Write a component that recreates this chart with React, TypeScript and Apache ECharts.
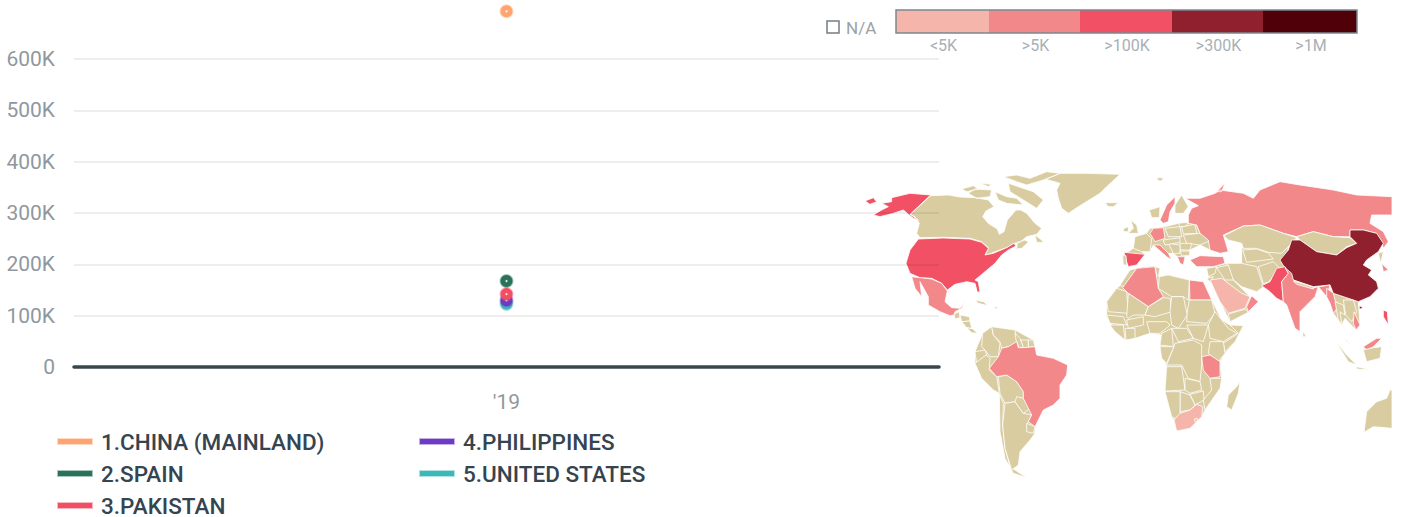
import React, { useEffect, useRef } from "react";
import * as echarts from "echarts";

const years = ["'19"];
const yTicks = { min: 0, max: 600000, interval: 100000 };
const rankedNames = ["1.CHINA (MAINLAND)", "2.SPAIN", "3.PAKISTAN", "4.PHILIPPINES", "5.UNITED STATES"];
const rankedValues = [693000, 167500, 142000, 130000, 123000];
const rankedColors = ["#ffa470", "#2a7259", "#f04f64", "#6d3bc4", "#3db8b8"];
const legendLeft = rankedNames.slice(0, 3);
const legendRight = rankedNames.slice(3);

const scaleLabels = ["<5K", ">5K", ">100K", ">300K", ">1M"];
const scaleColors = ["#f6b5ab", "#f3888a", "#f25064", "#91202e", "#500008"];
const scaleLimits = [0, 5000, 100000, 300000, 1000000, Infinity];
const noDataColor = "#d8cca0";

// Approximate value per shaded country (others have no data).
const countryValues: [string, number][] = [
  ["China", 693000], ["Spain", 167500], ["Pakistan", 142000], ["Philippines", 130000], ["United States", 123000],
  ["Russia", 40000], ["Brazil", 30000], ["Mexico", 20000], ["India", 40000], ["Algeria", 20000],
  ["Egypt", 20000], ["Turkey", 20000], ["Tanzania", 20000], ["Germany", 20000], ["Italy", 20000],
  ["Sweden", 20000], ["Greece", 20000], ["Oman", 20000], ["Myanmar", 20000], ["Malaysia", 20000],
  ["South Korea", 20000], ["Vietnam", 20000], ["Saudi Arabia", 3000], ["South Africa", 3000],
];

type Ring = number[][];
// Outline sketches in map units (west half).
const west: Record<string, Ring[]> = {
  SouthAmericaLand: [[[345,560],[368,505],[395,485],[465,495],[520,525],[525,545],[445,600],[490,680],[510,730],[525,785],[525,805],[510,825],[480,860],[475,900],[455,915],[435,850],[418,688],[365,640],[345,595]]],
  Greenland: [[[557,43],[600,25],[680,25],[780,28],[740,65],[720,85],[655,125],[625,145],[605,130],[595,100],[590,75],[600,55]]],
  Iceland: [[[735,113],[775,113],[760,125],[745,125]]],
  Canada: [
    [[212,92],[265,90],[300,96],[345,98],[385,105],[402,125],[378,138],[368,155],[385,175],[412,192],[418,208],[432,200],[442,165],[468,135],[482,135],[500,145],[525,175],[545,190],[530,208],[500,215],[480,232],[462,235],[440,248],[400,262],[375,272],[385,248],[365,230],[330,220],[250,217],[180,218],[170,205],[178,175],[165,155],[150,148]],
    [[525,210],[545,225],[550,232],[530,232]], [[472,232],[495,225],[505,232],[485,250],[470,252]],
    [[305,72],[340,62],[355,72],[320,80]], [[325,85],[345,72],[395,75],[390,95],[350,100]],
    [[360,55],[395,58],[385,65]], [[405,80],[440,95],[470,100],[490,120],[440,115],[415,105]],
    [[445,55],[520,80],[550,105],[530,130],[490,105],[450,80]],
    [[430,35],[470,30],[510,40],[560,20],[600,25],[550,45],[500,60],[470,50]],
  ],
  "United States": [
    [[175,222],[250,219],[330,222],[365,232],[385,250],[375,270],[400,265],[440,248],[462,235],[468,243],[445,255],[425,270],[405,295],[375,320],[345,345],[355,350],[360,380],[352,382],[345,355],[320,350],[285,358],[262,375],[245,355],[215,340],[180,338],[150,325],[138,295],[150,255]],
    [[95,98],[150,85],[212,90],[150,148],[175,165],[160,160],[130,135],[100,145],[60,155],[40,150],[65,135],[85,125],[65,115],[95,110]],
    [[15,108],[40,98],[50,110],[30,118]],
  ],
  Mexico: [[[155,335],[180,338],[215,342],[245,355],[262,378],[255,410],[275,428],[300,430],[315,412],[305,430],[285,440],[282,450],[270,452],[240,440],[205,420],[205,395],[180,350],[185,395],[165,370]]],
  Guatemala: [[[282,447],[298,440],[300,458],[285,462]]],
  Honduras: [[[300,450],[328,455],[330,468],[305,470]]],
  Nicaragua: [[[305,470],[330,468],[335,490],[320,488]]],
  Panama: [[[320,488],[340,492],[352,505],[335,503]]],
  Cuba: [[[345,405],[370,410],[385,422],[355,415]]],
  Haiti: [[[402,425],[420,428],[405,432]]],
  Colombia: [[[368,505],[395,485],[400,510],[420,535],[415,575],[390,575],[375,555],[365,545]]],
  Venezuela: [[[395,485],[465,495],[470,520],[475,545],[445,545],[425,550],[420,530],[400,510]]],
  Guyana: [[[465,505],[480,520],[490,545],[478,550],[468,525]]],
  Suriname: [[[483,525],[505,525],[505,547],[490,548]]],
  Guiana: [[[505,525],[520,525],[525,545],[505,547]]],
  Ecuador: [[[345,560],[375,555],[380,570],[350,595]]],
  Peru: [[[345,595],[378,570],[390,580],[388,615],[410,635],[418,685],[400,675],[365,640]]],
  Bolivia: [[[415,635],[440,630],[470,650],[490,680],[490,710],[465,710],[435,715],[420,685]]],
  Chile: [[[418,688],[430,715],[428,780],[435,850],[450,905],[500,938],[460,925],[435,880],[420,800]]],
  Argentina: [[[435,715],[465,710],[490,745],[515,750],[500,780],[525,805],[510,825],[480,860],[475,900],[455,915],[435,850],[428,780]]],
  Paraguay: [[[465,710],[470,695],[490,700],[510,730],[490,745]]],
  Uruguay: [[[500,775],[525,785],[520,805],[500,800]]],
  Brazil: [[[388,610],[415,575],[425,550],[445,545],[470,530],[475,548],[490,548],[525,545],[530,570],[580,580],[623,600],[620,630],[600,660],[600,700],[580,720],[550,735],[525,785],[505,770],[515,750],[490,700],[490,680],[470,650],[440,630],[410,635]]],
};

// Outline sketches in map units (east half, shifted by eastShift when built).
const east: Record<string, Ring[]> = {
  AfricaLand: [[[60,362],[90,315],[130,305],[165,303],[180,310],[178,335],[205,330],[268,345],[310,350],[335,405],[365,465],[390,480],[430,482],[405,530],[375,565],[360,590],[365,640],[360,670],[315,735],[305,755],[270,790],[230,798],[222,765],[215,755],[195,678],[200,605],[180,545],[185,510],[150,505],[105,520],[75,525],[45,500],[20,450],[20,410],[50,370]]],
  EuropeLand: [[[68,272],[100,250],[105,215],[140,205],[150,190],[195,185],[235,175],[265,175],[290,180],[300,205],[335,225],[330,255],[300,240],[270,255],[255,275],[250,300],[232,275],[220,265],[205,265],[215,285],[200,275],[160,240],[150,260],[125,260],[135,268],[110,300],[70,300]]],
  CentralAsiaLand: [[[425,250],[590,218],[565,245],[555,310],[530,310],[490,365],[470,380],[425,365],[400,345],[380,295],[425,295]]],
  SoutheastAsiaLand: [[[680,370],[745,400],[775,410],[780,480],[768,495],[735,460],[725,480],[700,445]]],
  MiddleEastLand: [[[320,310],[380,295],[400,345],[450,395],[475,410],[445,440],[390,470],[360,410],[330,345]]],
  Svalbard: [[[170,38],[190,38],[185,48],[175,47]]],
  Spain: [[[72,262],[135,268],[110,300],[85,305],[78,285]]],
  Portugal: [[[68,272],[78,272],[80,300],[70,300]]],
  France: [[[105,215],[140,205],[155,222],[150,260],[125,260],[100,250]]],
  Britain: [[[92,165],[110,180],[115,205],[85,205],[100,190]]],
  Ireland: [[[72,190],[85,185],[85,200],[70,200]]],
  Germany: [[[160,190],[190,188],[195,220],[165,230],[150,205]]],
  Italy: [[[160,240],[180,240],[205,265],[215,285],[200,275]]],
  Sweden: [[[180,165],[200,120],[225,95],[225,115],[210,140],[205,170],[190,175]]],
  Norway: [[[148,135],[180,125],[178,158],[155,158]]],
  Finland: [[[225,120],[245,90],[265,125],[250,145],[225,145]]],
  Poland: [[[195,190],[240,185],[245,215],[205,215]]],
  Baltics: [[[235,175],[262,172],[262,183],[240,185]]],
  Belarus: [[[245,186],[285,178],[290,205],[250,207]]],
  Ukraine: [[[250,210],[300,205],[335,225],[300,240],[260,235]]],
  Romania: [[[240,235],[275,235],[270,255],[240,255]]],
  Balkans: [[[205,235],[240,240],[240,265],[220,265]]],
  Bulgaria: [[[240,258],[270,258],[268,272],[245,272]]],
  Greece: [[[232,275],[255,275],[250,300],[240,295]]],
  Austria: [[[190,225],[240,218],[240,232],[195,240]]],
  Turkey: [[[270,285],[300,272],[370,275],[375,295],[340,305],[290,305]]],
  Russia: [
    [[300,100],[345,85],[360,75],[430,85],[460,100],[480,75],[540,50],[600,60],[700,75],[770,90],[876,95],[876,150],[815,150],[810,175],[850,200],[865,230],[850,250],[845,230],[830,205],[790,195],[750,195],[750,215],[700,215],[640,200],[590,215],[550,205],[480,180],[430,183],[370,210],[385,260],[360,265],[330,255],[325,225],[300,205],[290,180],[265,175],[265,150],[275,130],[295,122],[255,100]],
    [[350,80],[375,55],[365,80]],
  ],
  Kazakhstan: [[[372,212],[430,183],[480,180],[550,205],[590,218],[565,245],[545,265],[505,262],[470,250],[430,250],[425,235],[385,225]]],
  Uzbekistan: [[[428,255],[470,252],[505,264],[520,282],[480,287],[440,292]]],
  Mongolia: [[[590,215],[640,200],[700,215],[750,218],[770,235],[740,245],[710,270],[650,260],[600,225]]],
  China: [
    [[540,285],[565,255],[575,225],[600,225],[650,260],[710,270],[740,248],[770,235],[750,215],[750,195],[790,195],[830,205],[850,235],[835,260],[800,285],[790,300],[815,315],[805,330],[830,350],[835,370],[810,395],[775,410],[745,400],[700,385],[690,360],[640,365],[580,345],[555,310]],
    [[778,423],[787,425],[785,432],[778,431]],
  ],
  "North Korea": [[[835,265],[850,260],[842,295]]],
  "South Korea": [[[845,295],[865,315],[850,320]]],
  Iran: [[[380,295],[425,295],[470,305],[490,365],[470,380],[425,365],[395,340]]],
  Afghanistan: [[[475,305],[520,290],[540,310],[505,352],[490,355]]],
  Pakistan: [[[485,362],[510,350],[530,310],[555,305],[565,325],[545,350],[550,410],[530,400],[510,380]]],
  India: [[[555,308],[575,325],[580,345],[640,368],[690,360],[680,395],[655,365],[645,395],[600,440],[600,500],[585,490],[560,420],[550,410],[545,350],[565,325]]],
  Nepal: [[[580,348],[640,366],[640,372],[590,358]]],
  Myanmar: [[[680,370],[700,385],[705,405],[715,425],[700,445],[690,415],[680,395]]],
  Thailand: [[[705,410],[730,420],[735,450],[720,440],[725,475],[715,465]]],
  Laos: [[[730,405],[760,405],[770,440],[755,470],[737,450]]],
  Vietnam: [[[762,440],[780,480],[768,495],[760,475]]],
  Malaysia: [[[730,515],[755,545],[740,530]], [[790,545],[830,520],[845,520],[820,545],[800,555]]],
  Borneo: [[[790,555],[820,548],[845,545],[840,580],[800,590]]],
  Sumatra: [[[705,525],[740,570],[770,600],[745,590]]],
  Java: [[[770,605],[815,615],[770,612]]],
  Philippines: [[[850,435],[862,440],[865,480],[850,455]]],
  "Sri Lanka": [[[610,498],[618,515],[608,515]]],
  "Saudi Arabia": [[[330,345],[365,340],[425,385],[450,395],[435,430],[385,445],[360,410]]],
  Yemen: [[[385,447],[437,432],[445,442],[390,470]]],
  Oman: [[[440,425],[455,392],[475,410],[445,440]]],
  Iraq: [[[350,308],[385,300],[400,345],[375,345]]],
  Syria: [[[320,310],[350,305],[345,325],[325,335]]],
  Jordan: [[[320,340],[340,335],[330,350]]],
  Egypt: [[[268,345],[310,350],[335,405],[270,405]]],
  Morocco: [[[60,360],[90,315],[110,310],[115,320],[70,365]]],
  Mauritania: [[[20,410],[50,370],[80,380],[85,445],[25,440]]],
  Algeria: [[[68,368],[110,310],[165,305],[175,370],[190,395],[145,425],[85,385]]],
  Tunisia: [[[165,305],[180,310],[175,335],[170,330]]],
  Libya: [[[178,335],[205,330],[268,345],[265,405],[250,395],[215,395],[175,370]]],
  Mali: [[[85,385],[145,425],[135,450],[100,450],[85,460],[80,455]]],
  Niger: [[[145,425],[190,398],[210,400],[215,440],[165,455],[135,450]]],
  Chad: [[[215,395],[250,395],[262,450],[235,490],[215,480],[210,440]]],
  Sudan: [[[268,405],[335,405],[345,445],[320,475],[260,470],[262,440]]],
  Ethiopia: [[[345,440],[385,490],[410,505],[370,530],[330,520],[325,480]]],
  Somalia: [[[390,480],[430,482],[405,530],[375,560],[370,535],[415,505]]],
  Kenya: [[[330,530],[370,530],[375,565],[355,590],[325,565]]],
  Tanzania: [[[305,575],[330,570],[360,590],[360,635],[330,640],[310,615]]],
  Nigeria: [[[140,470],[200,470],[210,480],[180,505],[150,505]]],
  Senegal: [[[20,450],[70,455],[80,480],[30,475]]],
  Guinea: [[[30,480],[70,480],[75,525],[45,500]]],
  Ghana: [[[75,490],[105,490],[105,520],[78,525]]],
  Burkina: [[[80,465],[130,455],[130,480],[85,490]]],
  Cameroon: [[[185,505],[215,490],[220,545],[180,540]]],
  Central: [[[215,490],[260,490],[280,520],[235,530]]],
  "South Sudan": [[[260,480],[325,480],[310,530],[280,520]]],
  DRC: [[[225,535],[280,525],[305,540],[305,600],[300,650],[265,640],[245,600],[200,600]]],
  Gabon: [[[180,545],[222,545],[200,595],[185,580]]],
  Angola: [[[200,605],[245,605],[255,675],[195,678]]],
  Zambia: [[[255,640],[300,650],[305,675],[270,685],[255,675]]],
  Mozambique: [[[330,640],[365,640],[360,670],[315,735],[310,705],[335,675]]],
  Zimbabwe: [[[270,688],[310,678],[312,705],[285,720]]],
  Botswana: [[[240,680],[270,690],[285,720],[270,735],[240,740]]],
  Namibia: [[[195,680],[240,680],[240,755],[235,765],[215,755]]],
  "South Africa": [[[222,765],[240,745],[270,735],[290,718],[308,725],[305,755],[270,790],[230,798]]],
  Lesotho: [[[283,762],[292,760],[292,770],[285,770]]],
  Madagascar: [[[420,650],[415,685],[395,735],[380,725],[385,690],[410,665]]],
  Australia: [[[792,802],[800,740],[830,710],[860,700],[870,675],[876,675],[876,790],[820,785]]],
};
const eastShift = 720;

function buildGeo() {
  const features: any[] = [];
  const add = (name: string, rings: Ring[], dx: number) =>
    features.push({
      type: "Feature",
      properties: { name },
      geometry: {
        type: "MultiPolygon",
        coordinates: rings.map((r) => [[...r, r[0]].map(([x, y]) => [x + dx, y])]),
      },
    });
  Object.entries(west).forEach(([n, r]) => add(n, r, 0));
  Object.entries(east).forEach(([n, r]) => add(n, r, eastShift));
  return { type: "FeatureCollection", features };
}

const FONT = "Roboto, sans-serif";

export default function App() {
  const ref = useRef<HTMLDivElement>(null);
  useEffect(() => {
    const chart = echarts.init(ref.current!, undefined, { renderer: "svg" });
    echarts.registerMap("sketchWorld", buildGeo() as any);

    const order = [4, 3, 2, 1, 0];
    const pointSeries: any[] = [];
    order.forEach((i) => {
      pointSeries.push({
        type: "scatter",
        name: rankedNames[i],
        data: [[0, rankedValues[i]]],
        symbolSize: 12,
        clip: false,
        z: 6,
        itemStyle: { color: rankedColors[i], opacity: 1, borderColor: rankedColors[i] + "66", borderWidth: 2 },
      });
      pointSeries.push({
        type: "scatter",
        data: [[0, rankedValues[i]]],
        symbolSize: 2,
        clip: false,
        silent: true,
        z: 6,
        itemStyle: { color: "#ffffff", opacity: 0.9 },
      });
    });

    const legendBase = {
      orient: "vertical",
      icon: "rect",
      padding: 0,
      height: 120,
      itemWidth: 34,
      itemHeight: 5,
      itemGap: 9,
      selectedMode: false,
      textStyle: { fontFamily: FONT, fontSize: 22.5, fontWeight: 500, color: "#35444f", padding: [0, 0, 0, 4], lineHeight: 21 },
    };

    const edges = [896, 989, 1080, 1172, 1263, 1357];
    const stripTop = 10;
    const stripH = 23;

    const graphic: any[] = [
      ...scaleColors.map((c, i) => ({
        type: "rect",
        shape: { x: edges[i], y: stripTop, width: edges[i + 1] - edges[i], height: stripH },
        style: { fill: c },
        silent: true,
        z: 10,
      })),
      {
        type: "rect",
        shape: { x: edges[0], y: stripTop, width: edges[5] - edges[0], height: stripH },
        style: { fill: "none", stroke: "#7b8891", lineWidth: 1.5 },
        silent: true,
        z: 11,
      },
      ...scaleLabels.map((t, i) => ({
        type: "text",
        x: (edges[i] + edges[i + 1]) / 2 + 1,
        y: 45,
        style: { text: t, fontFamily: FONT, fontSize: 16, fill: "#a9b0b5", align: "center", verticalAlign: "middle" },
        silent: true,
        z: 10,
      })),
      {
        type: "rect",
        shape: { x: 827, y: 21, width: 12, height: 12 },
        style: { fill: "none", stroke: "#737d84", lineWidth: 1.5 },
        silent: true,
        z: 10,
      },
      {
        type: "text",
        x: 846,
        y: 28,
        style: { text: "N/A", fontFamily: FONT, fontSize: 17, fill: "#9aa2a7", align: "left", verticalAlign: "middle" },
        silent: true,
        z: 10,
      },
    ];

    chart.setOption({
      animation: false,
      backgroundColor: "#ffffff",
      grid: { left: 74, right: 462, top: 59, bottom: 150 },
      xAxis: {
        type: "category",
        data: years,
        z: 4,
        axisTick: { show: false },
        axisLine: { lineStyle: { color: "#37454f", width: 3.5 } },
        axisLabel: { fontFamily: FONT, fontSize: 21, color: "#8f989d", margin: 24 },
        splitLine: { show: false },
      },
      yAxis: {
        type: "value",
        min: yTicks.min,
        max: yTicks.max,
        interval: yTicks.interval,
        z: 4,
        axisLine: { show: false },
        axisTick: { show: false },
        axisLabel: {
          fontFamily: FONT,
          fontSize: 21,
          color: "#8f989d",
          margin: 19,
          formatter: (v: number) => (v === 0 ? "0" : v / 1000 + "K"),
        },
        splitLine: { lineStyle: { color: "rgba(40,40,40,0.08)", width: 2 } },
      },
      legend: [
        { ...legendBase, left: 57, top: 430, data: legendLeft },
        { ...legendBase, left: 419, top: 430, data: legendRight },
      ],
      visualMap: {
        show: false,
        type: "piecewise",
        seriesIndex: 0,
        pieces: scaleColors.map((color, i) => ({ gte: scaleLimits[i], lt: scaleLimits[i + 1], color })),
      },
      series: [
        {
          type: "map",
          map: "sketchWorld",
          projection: { project: (p: number[]) => [p[0], p[1]], unproject: (p: number[]) => [p[0], p[1]] },
          boundingCoords: [[0, 0], [1605, 960]],
          aspectScale: 1,
          left: 860,
          top: 165,
          width: 535,
          height: 320,
          roam: false,
          silent: true,
          showLegendSymbol: false,
          z: 1,
          label: { show: false },
          emphasis: { disabled: true },
          itemStyle: { areaColor: noDataColor, borderColor: "#ffffff", borderWidth: 0.8 },
          data: countryValues.map(([name, value]) => ({ name, value })),
        },
        ...pointSeries,
      ],
      graphic,
    });
    return () => chart.dispose();
  }, []);
  return <div ref={ref} style={{ position: "absolute", left: 0, top: 0, width: 1401, height: 517 }} />;
}
